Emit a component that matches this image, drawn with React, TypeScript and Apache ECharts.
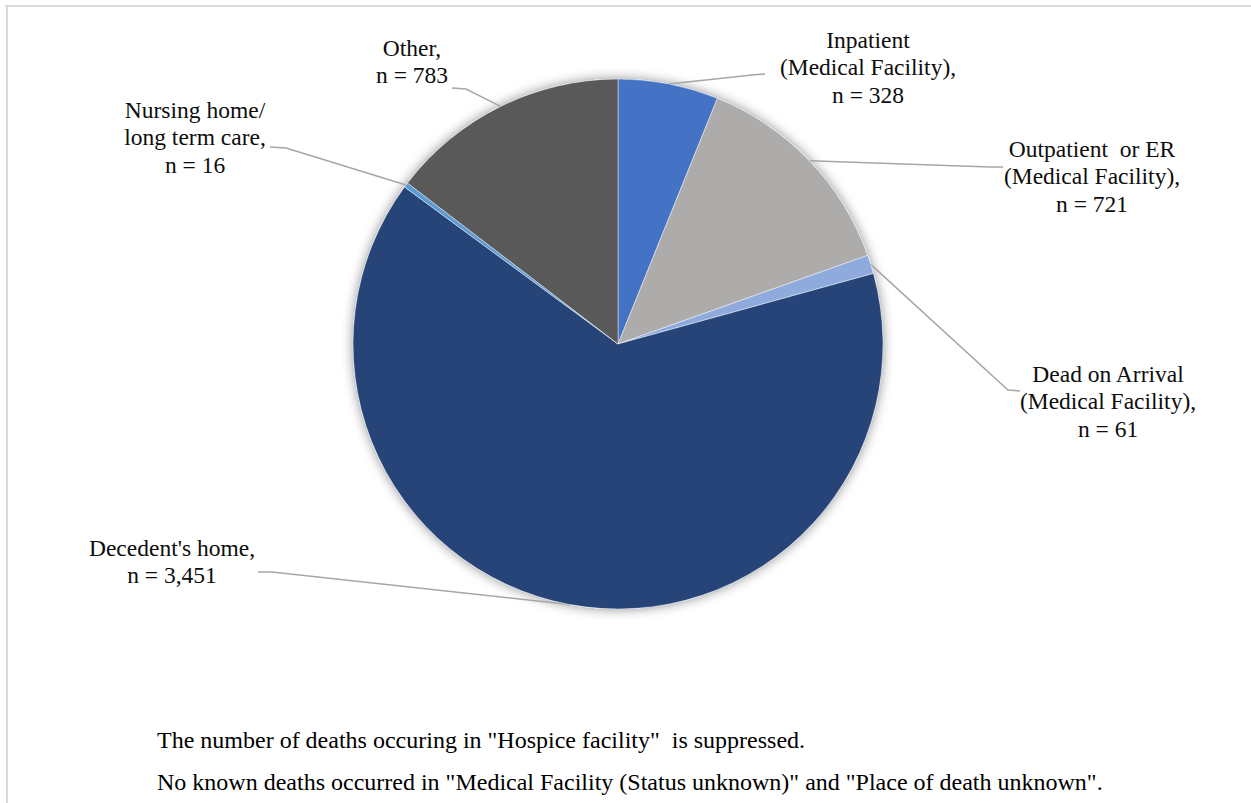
import React, { useEffect, useRef } from "react";
import * as echarts from "echarts";

// Place of death categories, clockwise from 12 o'clock
const placeNames = [
  "Inpatient\n(Medical Facility)",
  "Outpatient  or ER\n(Medical Facility)",
  "Dead on Arrival\n(Medical Facility)",
  "Decedent's home",
  "Nursing home/\nlong term care",
  "Other",
];
const deathCounts = [328, 721, 61, 3451, 16, 783];
const sliceColors = ["#4472C4", "#AEABAB", "#8FAADC", "#264478", "#5B9BD5", "#595959"];

const footnotes = [
  'The number of deaths occuring in "Hospice facility"  is suppressed.',
  'No known deaths occurred in "Medical Facility (Status unknown)" and "Place of death unknown".',
];

// Pie geometry
const CX = 618;
const CY = 344;
const R = 265;

// Label placement: centre x, top y, leader line elbow and end
const labelPlacement = [
  { x: 868, top: 26, elbow: [752, 75], end: [765, 74] },
  { x: 1092, top: 135, elbow: [990, 167], end: [1003, 167] },
  { x: 1108, top: 360, elbow: [1008, 390], end: [1020, 391] },
  { x: 172, top: 534, elbow: [272, 572], end: [258, 572] },
  { x: 195, top: 96, elbow: [286, 148], end: [270, 147] },
  { x: 412, top: 34, elbow: [466, 89], end: [452, 88] },
];

const FONT = "Liberation Serif, Tinos, FreeSerif, Noto Serif, DejaVu Serif, serif";
const LINE_H = 27.5;

export default function App() {
  const ref = useRef<HTMLDivElement>(null);

  useEffect(() => {
    if (!ref.current) return;
    const chart = echarts.init(ref.current, undefined, { renderer: "svg" });

    const total = deathCounts.reduce((a, b) => a + b, 0);
    // mid-angle anchor on the rim of each slice
    const anchors: number[][] = [];
    let cum = 0;
    deathCounts.forEach((v) => {
      const mid = ((cum + v / 2) / total) * Math.PI * 2;
      anchors.push([CX + R * Math.sin(mid), CY - R * Math.cos(mid)]);
      cum += v;
    });

    const data = placeNames.map((name, i) => ({
      name,
      value: deathCounts[i],
      itemStyle: { color: sliceColors[i] },
      label: { fontFamily: FONT, fontSize: 23.5 },
    }));

    chart.setOption({
      animation: false,
      title: footnotes.map((t, i) => ({
        text: t,
        left: 152,
        top: 723 + i * 42,
        textStyle: {
          fontFamily: FONT,
          fontSize: 24,
          fontWeight: "normal",
          color: "#000000",
        },
      })),
      series: [
        {
          // soft drop shadow under the whole disc
          type: "pie",
          silent: true,
          z: 1,
          center: [CX, CY],
          radius: R,
          label: { show: false },
          labelLine: { show: false },
          itemStyle: {
            color: "#ffffff",
            shadowBlur: 12,
            shadowColor: "rgba(0,0,0,0.45)",
          },
          data: [{ value: total, name: "" }],
        },
        {
          type: "pie",
          z: 2,
          center: [CX, CY],
          radius: R,
          startAngle: 90,
          clockwise: true,
          avoidLabelOverlap: false,
          itemStyle: { borderColor: "rgba(255,255,255,0.55)", borderWidth: 0.8 },
          label: {
            show: true,
            position: "outside",
            formatter: (p: any) =>
              `${p.name},\nn = ${Number(p.value).toLocaleString("en-US")}`,
            fontFamily: FONT,
            fontSize: 23.5,
            lineHeight: LINE_H,
            color: "#0d0d0d",
            align: "center",
          },
          labelLine: {
            show: true,
            lineStyle: { color: "#A6A6A6", width: 1.5 },
          },
          labelLayout: (params: any) => {
            const i = params.dataIndex;
            const lp = labelPlacement[i];
            return {
              x: lp.x,
              y: lp.top,
              align: "center",
              verticalAlign: "top",
              labelLinePoints: [anchors[i], lp.elbow, lp.end],
            };
          },
          data,
        },
      ],
    });

    return () => chart.dispose();
  }, []);

  return (
    <div style={{ position: "absolute", left: 0, top: 0, width: 1251, height: 803 }}>
      {/* frame edges */}
      <div style={{ position: "absolute", left: 5, top: 4.5, width: 1246, height: 2, background: "#D9D9D9" }} />
      <div style={{ position: "absolute", left: 5.5, top: 4.5, width: 2, height: 798.5, background: "#D9D9D9" }} />
      <div
        ref={ref}
        style={{ position: "absolute", left: 0, top: 0, width: 1251, height: 803 }}
      />
    </div>
  );
}
